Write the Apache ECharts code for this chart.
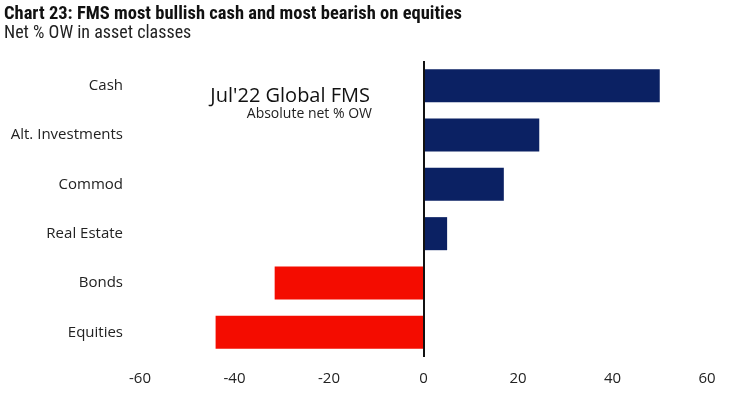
<!DOCTYPE html>
<html>
<head>
<meta charset="utf-8">
<script src="https://cdn.jsdelivr.net/npm/echarts@6/dist/echarts.min.js"></script>
<style>
  html, body { margin: 0; padding: 0; background: #fff; }
  #chart { width: 740px; height: 397px; }
</style>
</head>
<body>
<div id="chart"></div>
<script>
const categories = ["Cash", "Alt. Investments", "Commod", "Real Estate", "Bonds", "Equities"];
const netOW = [50, 24.5, 17, 5, -31.5, -44];
const xTicks = { min: -60, max: 60, step: 20 };

const NAVY = "#0b2163";
const RED = "#f40c00";

const myChart = echarts.init(document.getElementById("chart"));

const option = {
  backgroundColor: "#fff",
  animation: false,
  textStyle: { fontFamily: "Open Sans, DejaVu Sans, sans-serif" },
  title: [
    {
      text: "Chart 23: FMS most bullish cash and most bearish on equities",
      left: 4,
      top: 5,
      padding: 0,
      textStyle: {
        fontFamily: "Liberation Sans Narrow, Roboto Condensed, Arial Narrow, sans-serif",
        fontWeight: "bold",
        fontSize: 18.5,
        color: "#111",
      },
    },
    {
      text: "Net % OW in asset classes",
      left: 4,
      top: 24,
      padding: 0,
      textStyle: {
        fontFamily: "Liberation Sans Narrow, Roboto Condensed, sans-serif",
        fontWeight: "normal",
        fontSize: 18,
        color: "#222",
      },
    },
  ],
  graphic: [
    {
      type: "text",
      right: 370,
      top: 86,
      style: { text: "Jul'22 Global FMS", font: "20px 'Open Sans', sans-serif", fill: "#111", textAlign: "right" },
    },
    {
      type: "text",
      right: 368,
      top: 107,
      style: { text: "Absolute net % OW", font: "14px 'Open Sans', sans-serif", fill: "#222", textAlign: "right" },
    },
  ],
  grid: { left: 140, right: 33, top: 61, bottom: 40, containLabel: false },
  xAxis: {
    type: "value",
    min: xTicks.min,
    max: xTicks.max,
    interval: xTicks.step,
    axisLine: { show: false },
    axisTick: { show: false },
    splitLine: { show: false },
    axisLabel: { fontSize: 15, color: "#222", margin: 14 },
  },
  yAxis: {
    type: "category",
    data: categories,
    inverse: true,
    axisLine: { show: false },
    axisTick: { show: false },
    axisLabel: { fontSize: 15, color: "#222", margin: 17 },
  },
  series: [
    {
      type: "bar",
      data: netOW,
      barWidth: "67%",
      itemStyle: {
        color: (p) => (p.value >= 0 ? NAVY : RED),
      },
      markLine: {
        silent: true,
        symbol: "none",
        label: { show: false },
        lineStyle: { color: "#111", width: 2, type: "solid" },
        data: [{ xAxis: 0 }],
      },
    },
  ],
};

myChart.setOption(option);
</script>
</body>
</html>
